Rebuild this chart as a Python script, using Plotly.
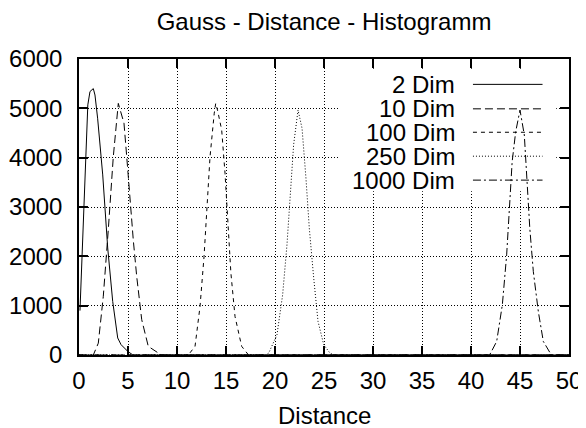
import plotly.graph_objects as go

# distance histogram values
dist_2d = [0.1, 0.5, 0.9, 1.12, 1.46, 1.63, 1.9, 2.42, 2.93, 3.44, 3.95, 4.29, 4.97, 5.5, 50]
count_2d = [900, 3000, 5070, 5340, 5400, 5270, 4800, 3650, 2170, 1085, 345, 210, 75, 0, 0]

dist_10d = [0, 1.46, 1.97, 2.48, 2.99, 3.5, 4.01, 4.35, 4.59, 4.87, 5.2, 5.54, 5.89, 6.4, 7.07, 8.4, 50]
count_10d = [0, 0, 240, 1190, 2540, 4020, 5100, 4830, 4700, 4020, 3140, 2330, 1590, 715, 175, 0, 0]

dist_100d = [0, 11.15, 11.84, 12.35, 12.76, 13.03, 13.37, 13.8, 13.95, 14.15, 14.56, 14.9, 15.17, 15.5, 15.92, 16.6, 17.3, 50]
count_100d = [0, 0, 175, 985, 2000, 3010, 4020, 4900, 5100, 4950, 4560, 3685, 2670, 1660, 780, 175, 0, 0]

dist_250d = [0, 19.0, 19.36, 20.2, 20.78, 21.22, 21.56, 21.9, 22.35, 22.76, 23.16, 23.5, 23.95, 24.39, 24.97, 25.6, 26.0, 50]
count_250d = [0, 0, 40, 410, 1220, 2230, 3245, 4260, 4965, 4595, 3580, 2570, 1560, 680, 210, 40, 0, 0]

dist_1000d = [0, 41.9, 42.62, 43.2, 43.64, 43.98, 44.2, 44.56, 45.0, 45.44, 45.68, 46.0, 46.36, 46.87, 47.38, 48.2, 50]
count_1000d = [0, 0, 275, 1020, 2030, 3040, 3920, 4525, 4965, 4460, 3580, 2570, 1690, 880, 275, 0, 0]

series_names = ["2 Dim", "10 Dim", "100 Dim", "250 Dim", "1000 Dim"]
dashes = ["solid", "8px,4px", "4px,4px", "1px,2px", "8px,3px,2px,3px"]

x_ticks = list(range(0, 51, 5))
y_ticks = list(range(0, 6001, 1000))

font = "Liberation Sans, Arial, sans-serif"
fsize = 24

fig = go.Figure()

# opaque key background (hides the grid, not the curves)
fig.add_trace(go.Scatter(x=[26.6, 48.7, 48.7, 26.6, 26.6], y=[3320, 3320, 5800, 5800, 3320],
                         mode="lines", fill="toself", fillcolor="white",
                         line=dict(width=0, color="white"), hoverinfo="skip", showlegend=False))

all_series = [(dist_2d, count_2d), (dist_10d, count_10d), (dist_100d, count_100d),
              (dist_250d, count_250d), (dist_1000d, count_1000d)]
for (xs, ys), name, dash in zip(all_series, series_names, dashes):
    fig.add_trace(go.Scatter(x=xs, y=ys, mode="lines", name=name,
                             line=dict(color="black", width=1, dash=dash),
                             showlegend=False))

# gnuplot style key: right aligned text, line sample to the right
row_y = [5486, 4990, 4515, 4030, 3545]
for name, dash, yy in zip(series_names, dashes, row_y):
    fig.add_annotation(x=38.6, y=yy, xref="x", yref="y", text=name, showarrow=False,
                       xanchor="right", yanchor="middle",
                       font=dict(family=font, size=fsize, color="black"))
    fig.add_shape(type="line", xref="x", yref="y", x0=40.2, x1=47.3, y0=yy, y1=yy,
                  line=dict(color="black", width=1, dash=dash))

# x axis title as an annotation so its position can be set exactly
fig.add_annotation(x=0.5, y=-0.205, xref="paper", yref="paper", text="Distance",
                   showarrow=False, xanchor="center", yanchor="middle",
                   font=dict(family=font, size=fsize, color="black"))

axis_common = dict(
    showline=True, linecolor="black", linewidth=1.5, mirror="ticks",
    ticks="inside", ticklen=9, tickwidth=1.5, tickcolor="black",
    showgrid=True, gridcolor="black", gridwidth=1, griddash="1px,2px",
    zeroline=False, tickfont=dict(family=font, size=fsize, color="black"),
    automargin=False,
)

fig.update_xaxes(range=[0, 50], tickvals=x_ticks, ticklabelstandoff=3, **axis_common)
fig.update_yaxes(range=[0, 6000], tickvals=y_ticks, ticklabelstandoff=10, **axis_common)

# page body adds an 8px margin, so the figure is 8px smaller each way
fig.update_layout(
    width=578, height=420,
    margin=dict(l=71, r=17, t=51, b=73),
    paper_bgcolor="white", plot_bgcolor="white",
    title=dict(text="Gauss - Distance - Histogramm", x=0.5, xref="paper", xanchor="center",
               y=0.968, yref="container", yanchor="middle", automargin=False,
               font=dict(family=font, size=fsize, color="black")),
)

fig.write_html("out.html")
